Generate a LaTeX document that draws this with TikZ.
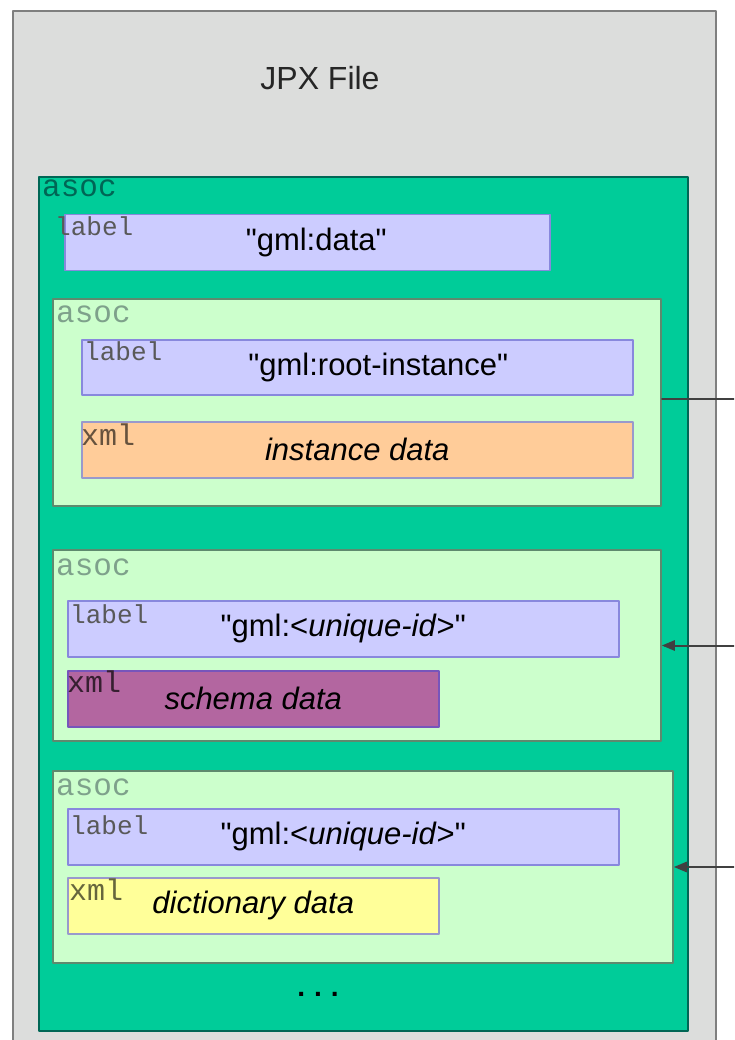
\documentclass[tikz,border=0pt]{standalone}
\usepackage{fontspec}
\setmainfont{Liberation Sans}
\setmonofont{Liberation Mono}
\usetikzlibrary{arrows}

\definecolor{jpxgray}{HTML}{DCDDDC}
\definecolor{jpxline}{HTML}{7F7F7F}
\definecolor{asocgreen}{HTML}{00CC99}
\definecolor{asocline}{HTML}{006655}
\definecolor{sublight}{HTML}{CCFFCC}
\definecolor{subline}{HTML}{5E8A6E}
\definecolor{lblblue}{HTML}{CCCCFF}
\definecolor{lblline}{HTML}{8888DD}
\definecolor{instorange}{HTML}{FFCC99}
\definecolor{schemapurple}{HTML}{B366A0}
\definecolor{schemaline}{HTML}{7755BB}
\definecolor{dictyellow}{HTML}{FFFF99}
\definecolor{xmlline}{HTML}{9999CC}

\tikzset{
  box/.style={rectangle, line width=1.5pt, anchor=north west, inner sep=0pt},
  filebox/.style={box, fill=jpxgray, draw=jpxline, line width=2pt},
  asocbox/.style={box, fill=asocgreen, draw=asocline, line width=2pt},
  subbox/.style={box, fill=sublight, draw=subline, line width=2pt},
  lblbox/.style={box, fill=lblblue, draw=lblline, font=\fontsize{31}{31}\selectfont},
  xmlbox/.style={box, draw=xmlline, font=\fontsize{31}{31}\selectfont\itshape},
  tag/.style={anchor=base west, inner sep=0pt, font=\fontsize{26}{26}\ttfamily},
  link/.style={line width=2pt, color=black!75},
}

\begin{document}
\begin{tikzpicture}[line cap=round,line join=round,>=triangle 45,x=1pt,y=-1pt]
\useasboundingbox (0,0) rectangle (734,1040);
\clip (0,0) rectangle (734,1040);
\coordinate (rim) at (734,0);
% file and outer association
\node[filebox, minimum width=703pt, minimum height=1045pt] (jpx) at (12,10) {};
\node[font=\fontsize{32}{32}\selectfont, text=black!85] (title) at (320,78) {JPX File};
\node[asocbox, minimum width=649pt, minimum height=854pt] (asoc0) at (38,176) {};
\node[tag, text=asocline, font=\fontsize{31}{31}\ttfamily] at ([shift={(4,21)}]asoc0.north west) {asoc};
\node[lblbox, minimum width=485pt, minimum height=56pt] (lbl0) at (64,214) {\hspace*{18pt}\textquotedbl gml:data\textquotedbl};
\node[tag, text=black!65] at ([shift={(-9,22)}]lbl0.north west) {label};
% root instance
\node[subbox, minimum width=608pt, minimum height=207pt] (asoc1) at (52,298) {};
\node[tag, text=subline!80, font=\fontsize{31}{31}\ttfamily] at ([shift={(4,24)}]asoc1.north west) {asoc};
\node[lblbox, minimum width=551pt, minimum height=55pt] (lbl1) at (81,339) {\hspace*{42pt}\textquotedbl gml:root-instance\textquotedbl};
\node[tag, text=black!65] at ([shift={(3,21)}]lbl1.north west) {label};
\node[xmlbox, fill=instorange, minimum width=551pt, minimum height=56pt] (xml1) at (81,421) {instance data};
\node[tag, text=black!60!instorange, font=\fontsize{30}{30}\ttfamily] at ([shift={(0,24)}]xml1.north west) {xml};
% schema
\node[subbox, minimum width=608pt, minimum height=191pt] (asoc2) at (52,549) {};
\node[tag, text=subline!80, font=\fontsize{31}{31}\ttfamily] at ([shift={(4,26)}]asoc2.north west) {asoc};
\node[lblbox, minimum width=551pt, minimum height=56pt] (lbl2) at (67,600) {\textquotedbl gml:<\textit{unique-id}>\textquotedbl};
\node[tag, text=black!65] at ([shift={(3,23)}]lbl2.north west) {label};
\node[xmlbox, fill=schemapurple, draw=schemaline, minimum width=371pt, minimum height=56pt] (xml2) at (67,670) {schema data};
\node[tag, text=black!70!schemapurple, font=\fontsize{30}{30}\ttfamily] at ([shift={(0,22)}]xml2.north west) {xml};
% dictionary
\node[subbox, minimum width=620pt, minimum height=192pt] (asoc3) at (52,770) {};
\node[tag, text=subline!80, font=\fontsize{31}{31}\ttfamily] at ([shift={(4,25)}]asoc3.north west) {asoc};
\node[lblbox, minimum width=551pt, minimum height=56pt] (lbl3) at (67,808) {\textquotedbl gml:<\textit{unique-id}>\textquotedbl};
\node[tag, text=black!65] at ([shift={(3,26)}]lbl3.north west) {label};
\node[xmlbox, fill=dictyellow, minimum width=371pt, minimum height=56pt] (xml3) at (67,877) {dictionary data};
\node[tag, text=black!60!dictyellow, font=\fontsize{30}{30}\ttfamily] at ([shift={(2,23)}]xml3.north west) {xml};
\node[font=\fontsize{28}{28}\ttfamily\bfseries] (more) at (318,994) {...};
% links to the right
\coordinate (ext1) at ([yshift=4pt]asoc1.east -| rim);
\coordinate (ext2) at (asoc2.east -| rim);
\coordinate (ext3) at (asoc3.east -| rim);
\draw [link] ([yshift=4pt]asoc1.east) -- (ext1);
\draw [->, link] (ext2) -- (asoc2.east);
\draw [->, link] (ext3) -- (asoc3.east);
\end{tikzpicture}
\end{document}
